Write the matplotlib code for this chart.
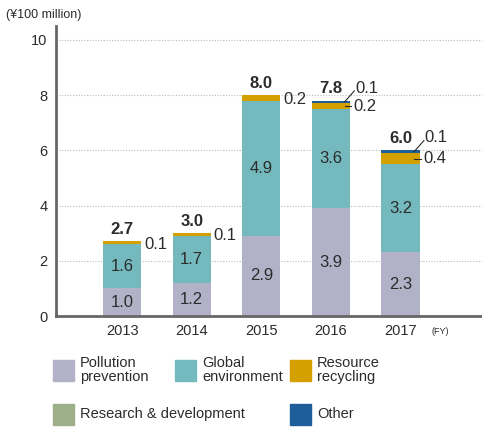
import numpy as np
import matplotlib
matplotlib.use("Agg")
import matplotlib.pyplot as plt
from matplotlib.patches import Rectangle

plt.rcParams['font.family'] = ['Liberation Sans', 'DejaVu Sans']

# data (unit: 100 million yen)
years = ['2013', '2014', '2015', '2016', '2017']
pollution = [1.0, 1.2, 2.9, 3.9, 2.3]
globalEnv = [1.6, 1.7, 4.9, 3.6, 3.2]
resource = [0.1, 0.1, 0.2, 0.2, 0.4]
research = [0.0, 0.0, 0.0, 0.0, 0.0]
other = [0.0, 0.0, 0.0, 0.1, 0.1]
totals = [2.7, 3.0, 8.0, 7.8, 6.0]

seriesNames = ['Pollution\nprevention', 'Global\nenvironment', 'Resource\nrecycling',
               'Research & development', 'Other']
colors = ['#b1b2c8', '#74b9bd', '#d4a000', '#9eb08a', '#1f5f99']
textColor = '#2b2b2b'

fig = plt.figure(figsize=(4.82, 4.28), dpi=100)
ax = fig.add_axes([56 / 482, 1 - 316 / 428, 1 - 56 / 482, (316 - 26) / 428])

x = np.arange(len(years))
width = 0.55
bottom = np.zeros(len(years))
allSeries = [pollution, globalEnv, resource, research, other]
for vals, col in zip(allSeries, colors):
    ax.bar(x, vals, width, bottom=bottom, color=col, zorder=3)
    bottom = bottom + np.array(vals)

# labels inside the two big segments, totals on top
for i in range(len(years)):
    ax.text(x[i], pollution[i] / 2, '%.1f' % pollution[i], ha='center', va='center',
            fontsize=12, color=textColor, zorder=4)
    ax.text(x[i], pollution[i] + globalEnv[i] / 2, '%.1f' % globalEnv[i], ha='center',
            va='center', fontsize=12, color=textColor, zorder=4)
    ax.annotate('%.1f' % totals[i], (x[i], totals[i]), xytext=(0, 3),
                textcoords='offset points', ha='center', va='bottom',
                fontsize=12, fontweight='bold', color=textColor)

# small values next to the bars
for i in range(len(years)):
    base = pollution[i] + globalEnv[i]
    resMid = base + resource[i] / 2
    if other[i] == 0:
        ax.text(x[i] + width / 2 + 0.04, resMid - 0.05, '%.1f' % resource[i],
                ha='left', va='center', fontsize=12, color=textColor)
    else:
        top = totals[i]
        # resource label with short dash
        ax.plot([x[i] + width / 2 - 0.08, x[i] + width / 2 + 0.02], [resMid, resMid],
                color=textColor, lw=0.8, zorder=5)
        ax.text(x[i] + width / 2 + 0.05, resMid, '%.1f' % resource[i],
                ha='left', va='center', fontsize=12, color=textColor)
        # other label with leader line
        ax.plot([x[i] + width / 2 - 0.08, x[i] + width / 2 + 0.06],
                [top - 0.05, top + 0.35], color=textColor, lw=0.8, zorder=5)
        ax.text(x[i] + width / 2 + 0.07, top + 0.45, '%.1f' % other[i],
                ha='left', va='center', fontsize=12, color=textColor)

ax.set_xlim(-0.95, 5.17)
ax.set_ylim(0, 10.5)
ax.set_yticks([0, 2, 4, 6, 8, 10])
ax.set_xticks(x)
ax.set_xticklabels(years)
ax.tick_params(axis='both', length=0, labelsize=10.5, colors=textColor)
ax.tick_params(axis='x', pad=6)
ax.tick_params(axis='y', pad=6)
for g in [2, 4, 6, 8, 10]:
    ax.axhline(g, color='#bbbbbb', lw=0.8, ls=(0, (1, 1.5)), zorder=1)
for s in ['top', 'right']:
    ax.spines[s].set_visible(False)
ax.spines['left'].set_color('#666666')
ax.spines['left'].set_linewidth(2)
ax.spines['bottom'].set_color('#666666')
ax.spines['bottom'].set_linewidth(2)
ax.spines['bottom'].set_zorder(5)

fig.text(6 / 482, 1 - 15 / 428, '(¥100 million)', fontsize=9, color=textColor, va='center')
fig.text(431 / 482, 1 - 332 / 428, '(FY)', fontsize=6.5, color=textColor, va='center')

# legend drawn by hand
legPos = [(53, 360), (175, 360), (290, 360), (53, 404), (290, 404)]
for (lx, ly), name, col in zip(legPos, seriesNames, colors):
    fig.patches.append(Rectangle((lx / 482, 1 - (ly + 21) / 428), 21 / 482, 21 / 428,
                                 transform=fig.transFigure, color=col))
    fig.text((lx + 27) / 482, 1 - (ly + 10) / 428, name, fontsize=10.5, color=textColor,
             va='center', ha='left', linespacing=1.05)

fig.savefig('out.png', dpi=100)
